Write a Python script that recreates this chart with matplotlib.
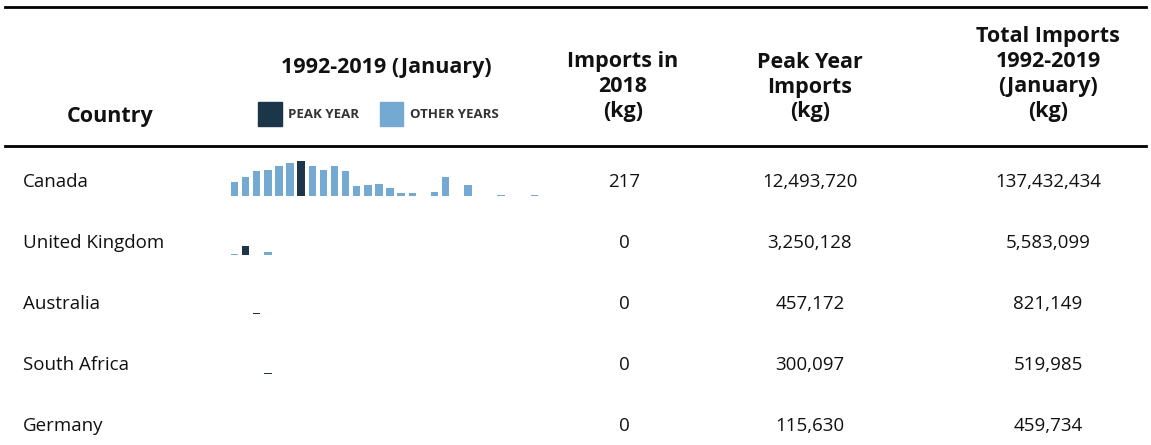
import numpy as np
import matplotlib
matplotlib.use("Agg")
import matplotlib.pyplot as plt
from matplotlib.patches import Rectangle

plt.rcParams['font.family'] = ['Open Sans', 'DejaVu Sans']

# Table data
countries = ['Canada', 'United Kingdom', 'Australia', 'South Africa', 'Germany']
imports_2018 = ['217', '0', '0', '0', '0']
peak_imports = ['12,493,720', '3,250,128', '457,172', '300,097', '115,630']
total_imports = ['137,432,434', '5,583,099', '821,149', '519,985', '459,734']

years = list(range(1992, 2020))

# yearly imports (kg)
canada = [4.93e6, 6.73e6, 8.89e6, 9.25e6, 10.69e6, 11.77e6, 12493720, 10.69e6,
          9.25e6, 10.69e6, 8.89e6, 3.48e6, 3.84e6, 4.44e6, 2.76e6, 0.96e6,
          0.96e6, 0.05e6, 1.32e6, 6.73e6, 0.03e6, 3.84e6, 0.02e6, 0.02e6,
          0.36e6, 0.02e6, 0.02e6, 0.36e6]
uk = [0.3e6, 3250128, 0, 1.05e6, 0, 0.12e6, 0, 0, 0.12e6, 0.12e6, 0.12e6, 0.12e6,
      0.12e6, 0.12e6, 0, 0, 0, 0, 0, 0.12e6, 0, 0, 0, 0, 0, 0, 0, 0]
australia = [0, 120000, 457172, 0, 0, 0, 0, 0, 0, 0, 120000, 0, 0, 0,
             0, 0, 0, 0, 0, 0, 0, 0, 0, 0, 0, 0, 0, 0]
south_africa = [110000, 0, 0, 300097, 0, 0, 110000, 0, 0, 0, 0, 0, 0, 0,
                0, 0, 0, 0, 0, 0, 0, 0, 0, 0, 0, 0, 0, 0]
germany = [0, 0, 0, 115630, 57000, 57000, 57000, 0, 0, 57000, 57000, 57000, 0, 0,
           0, 0, 0, 0, 0, 0, 0, 0, 0, 0, 0, 0, 0, 0]
series = [canada, uk, australia, south_africa, germany]

dark = '#1c3549'
light = '#74a9d1'

W, H = 1151, 445
fig = plt.figure(figsize=(W / 100, H / 100), dpi=100)

def fx(px):
    return px / W

def fy(py):
    return 1 - py / H

# rules
fig.add_artist(plt.Line2D([fx(5), fx(1146)], [fy(7), fy(7)], color='black', lw=2))
fig.add_artist(plt.Line2D([fx(5), fx(1146)], [fy(146), fy(146)], color='black', lw=2))

# header
hdr = dict(fontsize=15.5, fontweight='bold', ha='center', va='center', color='#111111')
fig.text(fx(110), fy(117), 'Country', **hdr)
fig.text(fx(386), fy(68), '1992-2019 (January)', **hdr)
fig.text(fx(623), fy(87), 'Imports in\n2018\n(kg)', linespacing=1.25, **hdr)
fig.text(fx(810), fy(87), 'Peak Year\nImports\n(kg)', linespacing=1.25, **hdr)
fig.text(fx(1048), fy(74), 'Total Imports\n1992-2019\n(January)\n(kg)', linespacing=1.25, **hdr)

# legend
fig.add_artist(Rectangle((fx(258), fy(126)), fx(24), 24 / H, color=dark))
fig.text(fx(288), fy(114), 'PEAK YEAR', fontsize=9.5, fontweight='bold',
         color='#333333', va='center', ha='left')
fig.add_artist(Rectangle((fx(380), fy(126)), fx(23), 24 / H, color=light))
fig.text(fx(410), fy(114), 'OTHER YEARS', fontsize=9.5, fontweight='bold',
         color='#333333', va='center', ha='left')

# rows
row_y = [182, 243, 304, 365, 426]
baselines = [196, 255, 314, 374, 434]
ymax = max(canada)
body = dict(fontsize=13.5, va='center', color='#111111')
for i, name in enumerate(countries):
    y = row_y[i]
    fig.text(fx(23), fy(y), name, ha='left', **body)
    fig.text(fx(624), fy(y), imports_2018[i], ha='center', **body)
    fig.text(fx(810), fy(y), peak_imports[i], ha='center', **body)
    fig.text(fx(1048), fy(y), total_imports[i], ha='center', **body)

    vals = np.array(series[i])
    peak = int(np.argmax(vals))
    colors = [dark if k == peak else light for k in range(len(vals))]
    ax = fig.add_axes([fx(229), fy(baselines[i]), fx(311), 35 / H])
    ax.bar(np.arange(len(vals)), vals, width=0.67, color=colors)
    ax.set_xlim(-0.5, len(vals) - 0.5)
    ax.set_ylim(0, ymax)
    ax.axis('off')

fig.savefig('out.png', dpi=100)
